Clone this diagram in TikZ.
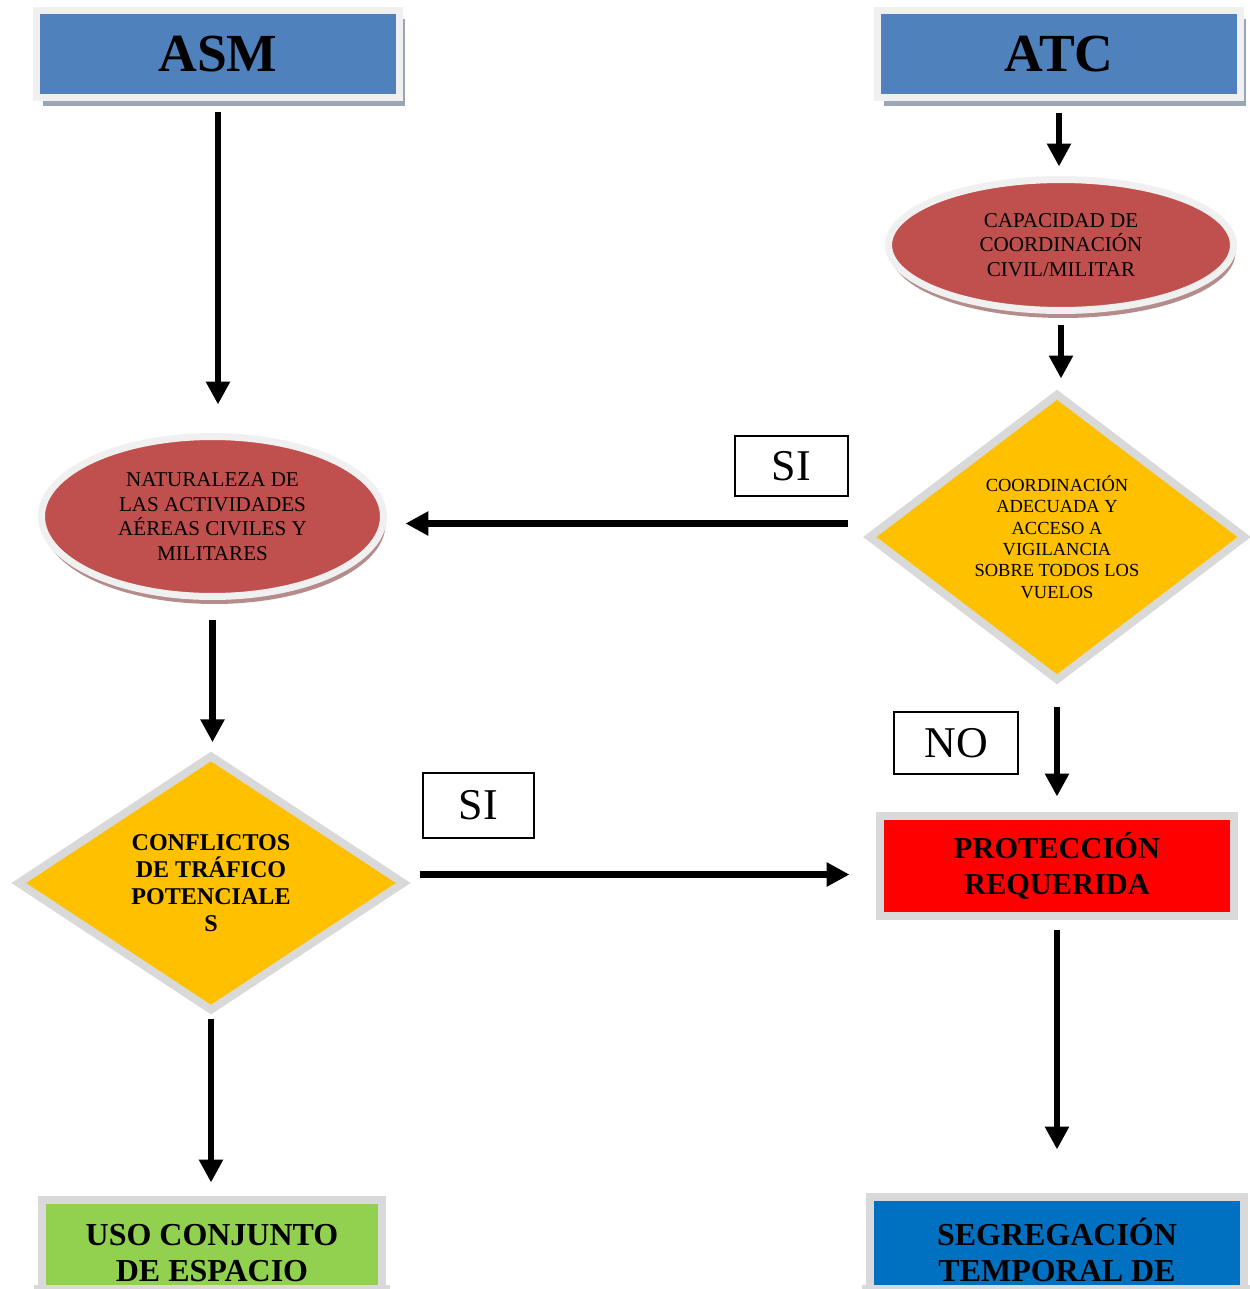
\documentclass[tikz,border=0pt]{standalone}
\usepackage{fontspec}
\setmainfont{Liberation Serif}
\usepackage{tikz}
\usetikzlibrary{shapes.geometric}
\usetikzlibrary{arrows.meta}
\usetikzlibrary{shadows}
\usepackage{xcolor}
\definecolor{asmblue}{HTML}{4F81BD}
\definecolor{capred}{HTML}{C0504D}
\definecolor{decyellow}{HTML}{FFC000}
\definecolor{usogreen}{HTML}{92D050}
\definecolor{segblue}{HTML}{0070C0}
\definecolor{rimgray}{HTML}{D9D9D9}
\definecolor{rimlight}{HTML}{F0F0F0}
\definecolor{shadowblue}{HTML}{9AA6B6}
\definecolor{shadowred}{HTML}{B48C8C}

\begin{document}
\begin{tikzpicture}[x=0.02cm, y=-0.02cm,
    titlebox/.style={rectangle, draw=rimlight, line width=0.14cm, fill=asmblue,
        minimum width=7.26cm, minimum height=1.76cm, inner sep=0pt,
        font=\fontsize{30.5}{34}\selectfont\bfseries,
        drop shadow={fill=shadowblue, opacity=1, shadow xshift=0.12cm, shadow yshift=-0.17cm}},
    ellip/.style={ellipse, draw=rimlight, line width=0.14cm, fill=capred, inner sep=0pt,
        align=center, font=\fontsize{12}{14}\selectfont,
        drop shadow={fill=shadowred, opacity=1, shadow xshift=0.04cm, shadow yshift=-0.15cm}},
    decision/.style={diamond, draw=rimgray, line width=0.16cm, fill=decyellow,
        inner sep=0pt, align=center},
    outbox/.style={rectangle, draw=rimgray, line width=0.16cm, inner sep=0pt,
        align=center, font=\fontsize{18.2}{20.5}\selectfont\bfseries},
    answer/.style={rectangle, draw, line width=0.8pt, inner sep=0pt,
        font=\fontsize{25}{28}\selectfont},
    flow/.style={line width=0.134cm, -{Triangle[length=0.46cm,width=0.46cm]}}]

    \useasboundingbox (0,0) rectangle (1250,1289);

    % ASM column
    \node[titlebox] (asm) at (218,54) {ASM};
    \node[ellip, minimum width=6.84cm, minimum height=3.2cm] (nat) at (212.5,516.5)
        {NATURALEZA DE\\LAS ACTIVIDADES\\AÉREAS CIVILES Y\\MILITARES};
    \node[decision, minimum width=7.76cm, minimum height=4.84cm,
        font=\fontsize{13.7}{15.4}\selectfont\bfseries] (conf) at (211,883)
        {CONFLICTOS\\DE TRÁFICO\\POTENCIALE\\S};
    \node[outbox, fill=usogreen, minimum width=6.8cm, minimum height=2.12cm] (uso) at (212,1253)
        {USO CONJUNTO\\DE ESPACIO};

    % ATC column
    \node[titlebox] (atc) at (1059,54) {ATC};
    \node[ellip, minimum width=6.9cm, minimum height=2.62cm] (capa) at (1061,245)
        {CAPACIDAD DE\\COORDINACIÓN\\CIVIL/MILITAR};
    \node[decision, minimum width=7.56cm, minimum height=5.64cm,
        font=\fontsize{10.5}{12.2}\selectfont] (coord) at (1057,537)
        {COORDINACIÓN\\ADECUADA Y\\ACCESO A\\VIGILANCIA\\SOBRE TODOS LOS\\VUELOS};
    \node[outbox, fill=red, minimum width=7.08cm, minimum height=2.0cm,
        font=\fontsize{17.3}{20.5}\selectfont\bfseries] (prot) at (1057,866)
        {PROTECCIÓN\\REQUERIDA};
    \node[outbox, fill=segblue, minimum width=7.48cm, minimum height=2.12cm] (seg) at (1057,1250)
        {SEGREGACIÓN\\TEMPORAL DE};

    % bottom rims over the cut text
    \fill[rimgray] ([xshift=-0.08cm,yshift=0.5cm]uso.south west) rectangle ([xshift=0.08cm,yshift=-0.1cm]uso.south east);
    \fill[rimgray] ([xshift=-0.08cm,yshift=0.44cm]seg.south west) rectangle ([xshift=0.08cm,yshift=-0.1cm]seg.south east);

    % answers
    \node[answer, minimum width=2.26cm, minimum height=1.2cm] (si1) at (791.5,466) {SI};
    \node[answer, minimum width=2.22cm, minimum height=1.3cm] (si2) at (478.5,805.5) {SI};
    \node[answer, minimum width=2.48cm, minimum height=1.24cm] (no) at (956,743) {NO};

    % flow
    \draw[flow, shorten <=0.21cm, shorten >=0.57cm] (asm.south) -- (asm.south |- nat.north);
    \draw[flow, shorten <=0.4cm, shorten >=0.17cm] (nat.south) -- (nat.south |- conf.north);
    \draw[flow, shorten <=0.08cm, shorten >=0.27cm] (conf.south) -- (conf.south |- uso.north);
    \draw[flow, shorten <=0.23cm, shorten >=0.19cm] (atc.south) -- (atc.south |- capa.north);
    \draw[flow, shorten <=0.22cm, shorten >=0.21cm] (capa.south) -- (capa.south |- coord.north);
    \draw[flow, shorten <=0.32cm, shorten >=0.37cm] ([yshift=0.27cm]coord.west) -- ([yshift=0.27cm]coord.west -| nat.east);
    \draw[flow, shorten <=0.22cm, shorten >=0.53cm] ([yshift=0.17cm]conf.east) -- ([yshift=0.17cm]conf.east -| prot.west);
    \draw[flow, shorten <=0.44cm, shorten >=0.31cm] (coord.south) -- (coord.south |- prot.north);
    \draw[flow, shorten <=0.2cm, shorten >=0.87cm] (prot.south) -- (prot.south |- seg.north);
\end{tikzpicture}
\end{document}
